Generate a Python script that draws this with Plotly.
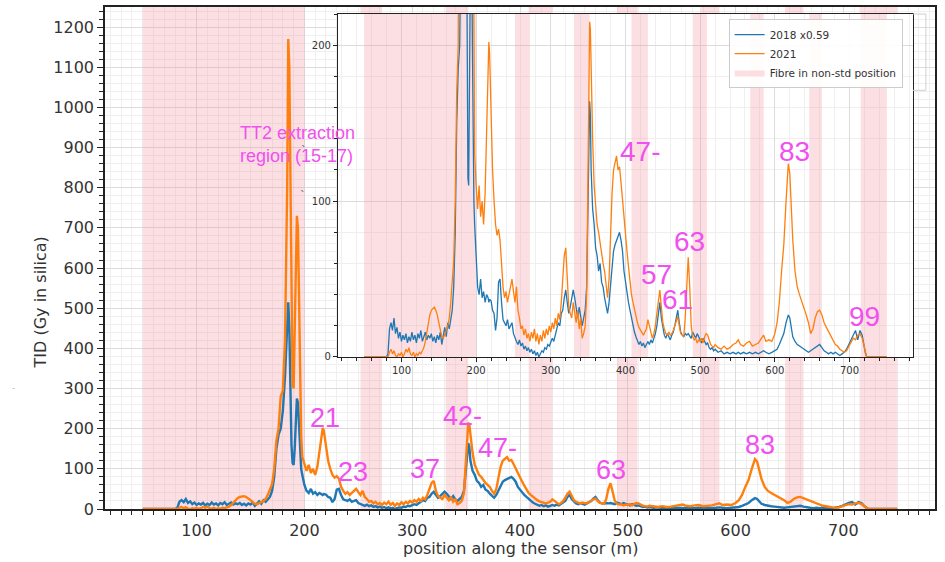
import plotly.graph_objects as go

# ---------------- data ----------------
position_m = [50, 60, 70, 80, 82, 84, 86, 88, 90, 92, 94, 96, 98, 100, 102, 104, 106, 108, 110, 112, 114, 116, 118, 120,
              122, 124, 126, 128, 130, 132, 134, 136, 138, 140, 142, 144, 146, 148, 150, 152, 154, 156, 158, 160, 162,
              164, 166, 168, 170, 172, 174, 176, 178, 180, 182, 184, 185, 186, 187, 188, 189, 190, 191, 192, 193, 194,
              195, 196, 197, 198, 200, 202, 204, 206, 208, 210, 212, 214, 216, 217, 218, 220, 222, 224, 226, 228, 230,
              232, 234, 236, 238, 240, 242, 244, 246, 248, 250, 252, 254, 256, 258, 260, 262, 264, 266, 268, 270, 272,
              274, 276, 278, 280, 282, 284, 286, 288, 290, 292, 294, 296, 298, 300, 302, 304, 306, 308, 310, 312, 314,
              316, 318, 320, 322, 324, 326, 328, 330, 332, 334, 336, 338, 340, 342, 344, 346, 348, 350, 352, 353, 354,
              356, 358, 360, 362, 364, 366, 368, 370, 372, 374, 376, 378, 380, 382, 384, 386, 388, 390, 392, 394, 396,
              398, 400, 402, 404, 406, 408, 410, 412, 414, 416, 418, 420, 422, 424, 426, 428, 430, 432, 434, 436, 438,
              440, 442, 444, 446, 448, 450, 452, 454, 456, 458, 460, 462, 464, 466, 468, 470, 472, 474, 476, 478, 480,
              482, 484, 486, 488, 490, 492, 494, 496, 498, 500, 502, 504, 506, 508, 510, 512, 514, 516, 518, 520, 524,
              528, 532, 536, 540, 544, 548, 551, 554, 558, 562, 566, 570, 574, 578, 582, 585, 588, 592, 596, 600, 603,
              606, 609, 612, 615, 618, 620, 622, 624, 627, 630, 633, 636, 639, 642, 645, 648, 651, 654, 657, 660, 663,
              666, 669, 672, 675, 678, 681, 684, 687, 690, 693, 696, 699, 702, 705, 708, 711, 714, 717, 719, 721, 723,
              730, 740, 750]

tid_2018_scaled = [0, 0, 0, 0, 2, 18, 22, 17, 25, 15, 19, 12, 16, 10, 14, 11, 15, 9, 13, 10, 16, 11, 14, 9,
                   15, 12, 17, 10, 13, 16, 11, 14, 12, 15, 10, 13, 9, 14, 11, 16, 8, 15, 19, 13, 22,
                   18, 25, 30, 45, 80, 150, 185, 200, 245, 330, 470, 515, 450, 300, 160, 115, 110, 150, 230, 275, 265,
                   200, 140, 100, 85, 60, 45, 40, 50, 38, 42, 35, 40, 38, 35, 37, 36, 30, 28, 17, 25, 48,
                   50, 35, 24, 22, 20, 24, 18, 20, 22, 15, 12, 10, 8, 11, 7, 9, 5, 7, 4, 6, 3,
                   5, 2, 4, 1, 3, 0, 2, 4, 3, 6, 5, 8, 7, 9, 12, 10, 15, 18, 22, 20, 28,
                   30, 38, 43, 35, 28, 32, 38, 43, 38, 30, 25, 32, 24, 20, 25, 30, 45, 100, 164, 155, 120,
                   95, 85, 70, 65, 55, 60, 48, 45, 38, 32, 28, 35, 45, 58, 68, 72, 75, 78, 80, 75, 68,
                   55, 48, 40, 35, 30, 25, 20, 16, 13, 10, 8, 10, 7, 9, 6, 8, 10, 8, 11, 9, 12,
                   15, 20, 30, 35, 25, 18, 14, 12, 15, 13, 11, 14, 16, 20, 26, 30, 22, 16, 14, 13, 15,
                   14, 15, 13, 12, 16, 14, 12, 15, 13, 11, 9, 12, 10, 8, 9, 6, 5, 6, 4, 5, 3,
                   4, 2, 3, 2, 3, 2, 3, 2, 3, 2, 3, 2, 3, 2, 3, 4, 3, 2, 3, 4, 5,
                   8, 12, 15, 22, 27, 25, 18, 13, 10, 8, 7, 6, 5, 4, 3, 4, 5, 6, 7, 8, 6,
                   4, 3, 2, 3, 2, 3, 2, 1, 2, 3, 5, 8, 12, 15, 17, 11, 17, 14, 8, 3, 0,
                   0, 0, 0]

tid_2021 = [0, 0, 0, 0, 0, 3, 5, 2, 4, 1, 0, 2, 1, 3, 0, 2, 5, 3, 6, 2, 1, 3, 0, 2,
            1, 3, 2, 4, 6, 10, 16, 22, 27, 30, 31, 32, 30, 27, 22, 17, 13, 12, 14, 17, 20,
            25, 35, 48, 62, 100, 170, 200, 280, 295, 420, 800, 1170, 1100, 800, 450, 310, 300, 420, 620, 730, 700,
            500, 300, 180, 130, 110, 95, 110, 90, 100, 85, 105, 140, 185, 202, 195, 150, 120, 100, 85, 78, 82,
            75, 55, 45, 38, 42, 35, 40, 45, 50, 42, 35, 45, 30, 25, 18, 20, 14, 18, 12, 15, 10,
            16, 12, 18, 10, 15, 8, 14, 10, 17, 12, 18, 14, 20, 16, 22, 18, 25, 20, 28, 24, 35,
            50, 65, 70, 45, 32, 28, 25, 35, 28, 22, 30, 18, 25, 12, 15, 20, 40, 130, 215, 210, 180,
            140, 110, 95, 85, 80, 72, 65, 60, 55, 45, 38, 50, 80, 105, 120, 125, 129, 120, 122, 112, 100,
            88, 78, 68, 58, 48, 40, 35, 30, 25, 22, 19, 17, 15, 14, 16, 18, 24, 20, 14, 12, 15,
            20, 28, 38, 43, 32, 22, 18, 15, 14, 16, 14, 15, 17, 20, 24, 26, 20, 15, 14, 13, 25,
            50, 64, 45, 20, 13, 11, 12, 9, 11, 10, 12, 9, 13, 15, 14, 10, 8, 7, 6, 8, 6,
            5, 7, 5, 6, 8, 9, 11, 8, 7, 9, 10, 7, 8, 9, 12, 14, 10, 11, 10, 15, 22,
            35, 55, 72, 100, 124, 118, 95, 75, 55, 45, 40, 36, 32, 27, 22, 15, 18, 25, 29, 30, 27,
            22, 19, 16, 13, 10, 8, 7, 5, 4, 3, 4, 7, 10, 12, 11, 14, 15, 12, 8, 4, 0,
            0, 0, 0]

span_start = [50, 252, 331, 408, 490, 567, 646, 715]
span_end = [200, 272, 352, 430, 509, 585, 663, 750]

main_yticks = list(range(0, 1201, 100))
inset_yticks = [0, 100, 200]
xticks = [100, 200, 300, 400, 500, 600, 700]

main_labels = ["21", "23", "37", "42-", "47-", "63", "83"]
main_label_x = [219, 245, 312, 347, 379, 484, 623]
main_label_y = [226, 92, 100, 232, 153, 96, 160]

inset_labels = ["47-", "57", "61", "63", "83", "99"]
inset_label_x = [420, 442, 470, 486, 626, 720]
inset_label_y = [132, 53, 37, 74, 132, 26]

BLUE = "#1f77b4"
ORANGE = "#ff7f0e"
PINK = "rgba(245,150,160,0.30)"
MAGENTA = "#f050f0"
FONT = "DejaVu Sans"

fig = go.Figure()


def span_polygon(starts, ends, ytop):
    xs, ys = [], []
    for a, b in zip(starts, ends):
        xs += [a, b, b, a, a, None]
        ys += [0, 0, ytop, ytop, 0, None]
    return xs, ys


# main axes
sx, sy = span_polygon(span_start, span_end, 1250)
fig.add_trace(go.Scatter(x=sx, y=sy, fill="toself", fillcolor=PINK, mode="lines",
                         line=dict(width=0), hoverinfo="skip", showlegend=False,
                         xaxis="x", yaxis="y"))
fig.add_trace(go.Scatter(x=position_m, y=tid_2018_scaled, mode="lines",
                         line=dict(color=BLUE, width=2.4), showlegend=False, xaxis="x", yaxis="y"))
fig.add_trace(go.Scatter(x=position_m, y=tid_2021, mode="lines",
                         line=dict(color=ORANGE, width=2.4), showlegend=False, xaxis="x", yaxis="y"))

# inset axes
sx2, sy2 = span_polygon(span_start, span_end, 220)
fig.add_trace(go.Scatter(x=sx2, y=sy2, fill="toself", fillcolor=PINK, mode="lines",
                         line=dict(width=0), hoverinfo="skip", name="Fibre in non-std position",
                         legendrank=3, xaxis="x2", yaxis="y2"))
fig.add_trace(go.Scatter(x=position_m, y=tid_2018_scaled, mode="lines", name="2018 x0.59",
                         legendrank=1, line=dict(color=BLUE, width=1.3), xaxis="x2", yaxis="y2"))
fig.add_trace(go.Scatter(x=position_m, y=tid_2021, mode="lines", name="2021",
                         legendrank=2, line=dict(color=ORANGE, width=1.3), xaxis="x2", yaxis="y2"))

grid_major = "#dcdcdc"
grid_minor = "#efefef"
tickcol = "#333333"


def axis_common(size):
    return dict(ticks="outside", tickcolor="#222", showline=True, linecolor="#222", mirror=True,
                showgrid=True, gridcolor=grid_major, zeroline=False, automargin=False,
                tickfont=dict(size=size, family=FONT, color=tickcol))


xa = axis_common(16)
xa.update(domain=[0, 1], range=[15, 785], tickvals=xticks, ticklen=6, tickwidth=1.2, linewidth=1.5,
          minor=dict(dtick=10, tick0=0, ticks="outside", ticklen=4, tickcolor="#222",
                     showgrid=True, gridcolor=grid_minor))
ya = axis_common(16)
ya.update(domain=[0, 1], range=[0, 1250], tickvals=main_yticks, ticklen=6, tickwidth=1.2, linewidth=1.5,
          minor=dict(dtick=20, tick0=0, ticks="outside", ticklen=4, tickcolor="#222",
                     showgrid=True, gridcolor=grid_minor))
xa2 = axis_common(10)
xa2.update(domain=[0.2807, 0.9735], anchor="y2", range=[15, 785], tickvals=xticks, ticklen=4, linewidth=1.2,
           minor=dict(dtick=20, tick0=0, ticks="outside", ticklen=2.5, tickcolor="#222",
                      showgrid=True, gridcolor=grid_minor))
ya2 = axis_common(10)
ya2.update(domain=[0.3028, 0.986], anchor="x2", range=[0, 220], tickvals=inset_yticks, ticklen=4,
           linewidth=1.2,
           minor=dict(dtick=20, tick0=0, ticks="outside", ticklen=2.5, tickcolor="#222",
                      showgrid=True, gridcolor=grid_minor))

fig.update_layout(
    width=945, height=562,
    margin=dict(l=105, r=10, t=7, b=53, autoexpand=False),
    paper_bgcolor="white", plot_bgcolor="white",
    font=dict(family=FONT, color=tickcol),
    xaxis=xa, yaxis=ya, xaxis2=xa2, yaxis2=ya2,
    legend=dict(x=0.961, y=0.976, xanchor="right", yanchor="top", bgcolor="rgba(255,255,255,0.9)",
                bordercolor="#cccccc", borderwidth=1, font=dict(size=10.5, family=FONT, color="#333"),
                tracegroupgap=0, itemwidth=30),
    showlegend=True,
)

annotations = []
# axis titles
annotations.append(dict(x=0.5, y=-0.078, xref="paper", yref="paper", text="position along the sensor (m)",
                        showarrow=False, xanchor="center", yanchor="middle",
                        font=dict(size=16, family=FONT, color=tickcol)))
annotations.append(dict(x=-0.078, y=0.412, xref="paper", yref="paper", text="TID (Gy in silica)",
                        showarrow=False, textangle=-90, xanchor="center", yanchor="middle",
                        font=dict(size=16, family=FONT, color=tickcol)))
annotations.append(dict(x=138, y=965, xref="x", yref="y", text="TT2 extraction<br>region (15-17)",
                        showarrow=False, xanchor="left", yanchor="top", align="left",
                        font=dict(size=18, family="Liberation Sans", color=MAGENTA)))
for t, x, y in zip(main_labels, main_label_x, main_label_y):
    annotations.append(dict(x=x, y=y, xref="x", yref="y", text=t, showarrow=False,
                            font=dict(size=27, family="Liberation Sans", color=MAGENTA)))
for t, x, y in zip(inset_labels, inset_label_x, inset_label_y):
    annotations.append(dict(x=x, y=y, xref="x2", yref="y2", text=t, showarrow=False,
                            font=dict(size=28, family="Liberation Sans", color=MAGENTA)))
# small stray marks visible in the reference
annotations.append(dict(x=200, y=893, xref="x", yref="y", text="`", showarrow=False,
                        font=dict(size=11, family=FONT, color="#555")))
annotations.append(dict(x=199, y=780, xref="x", yref="y", text="`", showarrow=False,
                        font=dict(size=11, family=FONT, color="#555")))
annotations.append(dict(x=-0.11, y=0.227, xref="paper", yref="paper", text="-", showarrow=False,
                        xanchor="center", font=dict(size=9, family=FONT, color="#bbbbbb")))
fig.update_layout(annotations=annotations)

# partially hidden outer legend frame at the right of the inset
fig.add_shape(type="path", xref="paper", yref="paper",
              path="M 0.9735 0.986 L 0.989 0.986 L 0.989 0.834 L 0.9735 0.834",
              line=dict(color="#d0d0d0", width=1), layer="above")

fig.write_html("out.html", config={"displayModeBar": False},
               post_script=["document.body.style.margin='0px';"])
